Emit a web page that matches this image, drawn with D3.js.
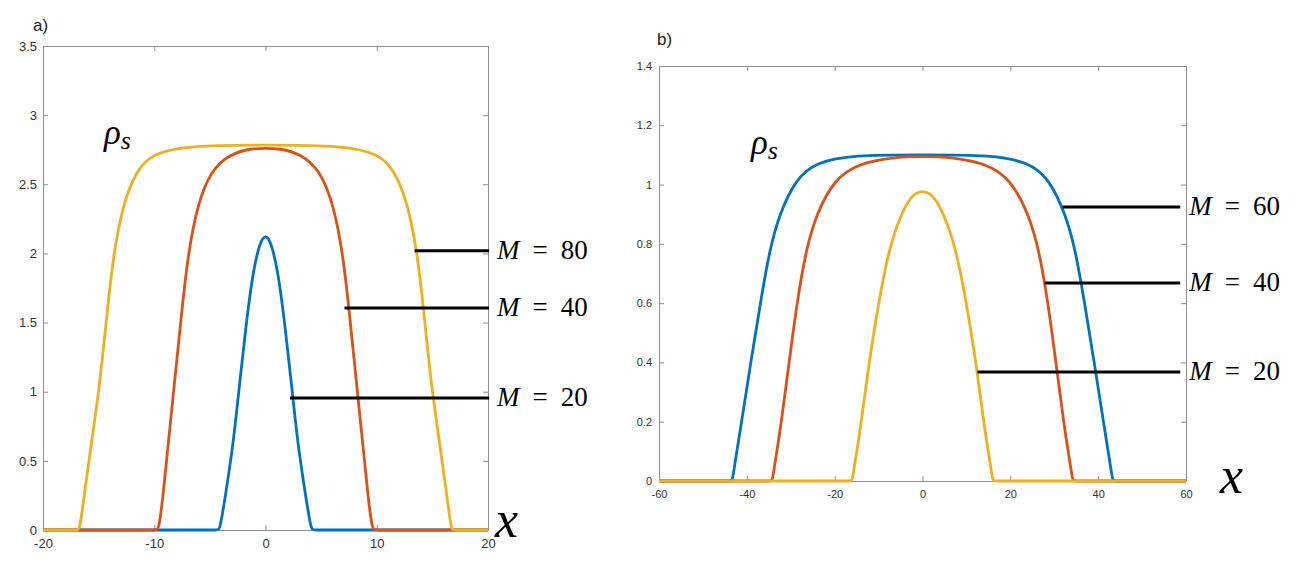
<!DOCTYPE html>
<html>
<head>
<meta charset="utf-8">
<script src="https://cdn.jsdelivr.net/npm/d3@7"></script>
<style>
  body { margin: 0; background: #fff; }
  svg { display: block; }
</style>
</head>
<body>
<script>
// ---- panel a) data (read off the figure) ----
var aM20x = [-20, -6, -4.3, -4.1, -3.6, -2.9, -2.3, -1.7, -1.1, -0.55, -0.25, 0, 0.25, 0.55, 1.1, 1.7, 2.3, 2.9, 3.6, 4.1, 4.3, 6, 20];
var aM20y = [0, 0, 0, 0, 0.25, 0.62, 1.08, 1.52, 1.88, 2.06, 2.11, 2.125, 2.11, 2.06, 1.88, 1.52, 1.08, 0.62, 0.25, 0, 0, 0, 0];

var aM40x = [-20, -12, -9.8, -9.6, -9.2, -8.8, -8.2, -7.6, -7.0, -6.1, -4.9, -3.2, -1.2, 0, 1.2, 3.2, 4.9, 6.1, 7.0, 7.6, 8.2, 8.8, 9.2, 9.6, 9.8, 12, 20];
var aM40y = [0, 0, 0, 0, 0.25, 0.58, 1.05, 1.52, 1.98, 2.36, 2.6, 2.72, 2.76, 2.76, 2.76, 2.72, 2.6, 2.36, 1.98, 1.52, 1.05, 0.58, 0.25, 0, 0, 0, 0];

var aM80x = [-20, -18.5, -16.9, -16.7, -16.3, -15.7, -14.9, -14.3, -13.7, -12.8, -11.6, -10.2, -7.1, 0, 7.1, 10.2, 11.6, 12.8, 13.7, 14.3, 14.9, 15.7, 16.3, 16.7, 16.9, 18.5, 20];
var aM80y = [0, 0, 0, 0, 0.25, 0.6, 1.05, 1.52, 1.98, 2.36, 2.6, 2.72, 2.78, 2.785, 2.78, 2.72, 2.6, 2.36, 1.98, 1.52, 1.05, 0.6, 0.25, 0, 0, 0, 0];

var aXTicks = [-20, -10, 0, 10, 20];
var aYTicks = [0, 0.5, 1, 1.5, 2, 2.5, 3, 3.5];

// annotation lines: M value, line start x, line end x, height
var aLabelM = [20, 40, 80];
var aLabelX0 = [2.2, 7.1, 13.4];
var aLabelX1 = [20.1, 20.1, 20.1];
var aLabelY = [0.955, 1.605, 2.02];

// ---- panel b) data ----
var bM60x = [-60, -50, -43.6, -43.3, -42.6, -41.3, -39.0, -36.7, -34.8, -32.6, -28.8, -24.2, -15.9, 0, 15.9, 24.2, 28.8, 32.6, 34.8, 36.7, 39.0, 41.3, 42.6, 43.3, 43.6, 50, 60];
var bM60y = [0, 0, 0, 0, 0.07, 0.19, 0.41, 0.62, 0.78, 0.9, 1.02, 1.075, 1.1, 1.1, 1.1, 1.075, 1.02, 0.9, 0.78, 0.62, 0.41, 0.19, 0.07, 0, 0, 0, 0];

var bM40x = [-60, -40, -34.5, -34.2, -33.5, -32.2, -30.3, -28.4, -26.5, -24.2, -20.0, -14.3, -6.8, 0, 6.8, 14.3, 20.0, 24.2, 26.5, 28.4, 30.3, 32.2, 33.5, 34.2, 34.5, 40, 60];
var bM40y = [0, 0, 0, 0, 0.07, 0.19, 0.41, 0.62, 0.78, 0.9, 1.02, 1.072, 1.092, 1.095, 1.092, 1.072, 1.02, 0.9, 0.78, 0.62, 0.41, 0.19, 0.07, 0, 0, 0, 0];

var bM20x = [-60, -22, -16.3, -16.0, -15.3, -14.0, -12.1, -9.8, -7.5, -4.9, -2.6, -1.2, 0, 1.2, 2.6, 4.9, 7.5, 9.8, 12.1, 14.0, 15.3, 16.0, 16.3, 22, 60];
var bM20y = [0, 0, 0, 0, 0.07, 0.19, 0.41, 0.62, 0.79, 0.9, 0.96, 0.973, 0.978, 0.973, 0.96, 0.9, 0.79, 0.62, 0.41, 0.19, 0.07, 0, 0, 0, 0];

var bXTicks = [-60, -40, -20, 0, 20, 40, 60];
var bYTicks = [0, 0.2, 0.4, 0.6, 0.8, 1, 1.2, 1.4];

var bLabelM = [20, 40, 60];
var bLabelX0 = [12.5, 27.8, 31.9];
var bLabelX1 = [58.7, 58.7, 58.7];
var bLabelY = [0.368, 0.668, 0.924];

var blue = "#0072BD", red = "#D95319", yellow = "#EDB120";

var width = 1302, height = 562;

var svg = d3.select("body").append("svg")
    .attr("width", width)
    .attr("height", height);

var panel = function(opt){
  var x = d3.scaleLinear().domain(opt.xDomain).range([opt.left, opt.right]);
  var y = d3.scaleLinear().domain(opt.yDomain).range([opt.bottom, opt.top]);
  var g = svg.append("g");
  var fmt = function(d){ return String(d); };

  // box with inward ticks on all four sides
  var bottom = g.append("g").attr("transform", "translate(0," + opt.bottom + ")")
    .call(d3.axisBottom(x).tickValues(opt.xTicks).tickFormat(fmt)
      .tickSizeInner(-5).tickSizeOuter(0).tickPadding(opt.xPad));
  var left = g.append("g").attr("transform", "translate(" + opt.left + ",0)")
    .call(d3.axisLeft(y).tickValues(opt.yTicks).tickFormat(fmt)
      .tickSizeInner(-5).tickSizeOuter(0).tickPadding(opt.yPad));
  var top = g.append("g").attr("transform", "translate(0," + opt.top + ")")
    .call(d3.axisTop(x).tickValues(opt.xTicks).tickFormat("")
      .tickSizeInner(-5).tickSizeOuter(0));
  var right = g.append("g").attr("transform", "translate(" + opt.right + ",0)")
    .call(d3.axisRight(y).tickValues(opt.yTicks).tickFormat("")
      .tickSizeInner(-5).tickSizeOuter(0));

  [bottom, left, top, right].forEach(function(ax){
    ax.select(".domain").attr("stroke", "#8f8f8f");
    ax.selectAll(".tick line").attr("stroke", "#8f8f8f");
    ax.selectAll(".tick text")
      .attr("fill", "#333")
      .style("font-family", "'Liberation Sans', Arial, sans-serif")
      .style("font-size", opt.tickFont + "px");
  });

  // curves (drawn in plot order so the last one sits on top)
  var line = d3.line()
    .x(function(d){ return x(d[0]); })
    .y(function(d){ return y(d[1]); })
    .curve(d3.curveBasis);

  opt.series.forEach(function(s){
    g.append("path")
      .attr("d", line(d3.zip(s.xs, s.ys)))
      .attr("fill", "none")
      .attr("stroke", s.color)
      .attr("stroke-width", 2.8)
      .attr("stroke-linejoin", "round");
  });

  // M = .. annotations
  opt.labelM.forEach(function(m, i){
    g.append("line")
      .attr("x1", x(opt.labelX0[i])).attr("x2", x(opt.labelX1[i]))
      .attr("y1", y(opt.labelY[i])).attr("y2", y(opt.labelY[i]))
      .attr("stroke", "#000").attr("stroke-width", 3);
    var t = g.append("text")
      .attr("x", x(opt.labelX1[i]) + opt.labelGap)
      .attr("y", y(opt.labelY[i]) + 8)
      .style("font-family", "'Liberation Serif', 'Times New Roman', serif")
      .style("font-size", "27px");
    t.append("tspan").attr("font-style", "italic").text("M");
    t.append("tspan").attr("dx", 13).text("=");
    t.append("tspan").attr("dx", 13).text(m);
  });

  // rho_s and x labels
  var rho = g.append("text")
    .attr("x", opt.rhoPos[0]).attr("y", opt.rhoPos[1])
    .style("font-family", "'Liberation Serif', 'Times New Roman', serif")
    .style("font-style", "italic")
    .style("font-size", "35px");
  rho.append("tspan").text("ρ");
  rho.append("tspan").attr("dy", 5).style("font-size", "26px").text("s");

  g.append("text")
    .attr("x", opt.xLabelPos[0]).attr("y", opt.xLabelPos[1])
    .style("font-family", "'Liberation Serif', 'Times New Roman', serif")
    .style("font-style", "italic")
    .style("font-size", "52px")
    .text("x");

  g.append("text")
    .attr("x", opt.tagPos[0]).attr("y", opt.tagPos[1])
    .style("font-family", "'Liberation Sans', Arial, sans-serif")
    .style("font-size", "17px")
    .attr("fill", "#222")
    .text(opt.tag);
};

panel({
  tag: "a)", tagPos: [33, 31],
  left: 43, right: 488, top: 46, bottom: 530,
  xDomain: [-20, 20], yDomain: [0, 3.5],
  xTicks: aXTicks, yTicks: aYTicks,
  xPad: 9, yPad: 6, tickFont: 13,
  series: [
    {xs: aM20x, ys: aM20y, color: blue},
    {xs: aM40x, ys: aM40y, color: red},
    {xs: aM80x, ys: aM80y, color: yellow}
  ],
  labelM: aLabelM, labelX0: aLabelX0, labelX1: aLabelX1, labelY: aLabelY, labelGap: 8,
  rhoPos: [104, 144], xLabelPos: [495, 537]
});

panel({
  tag: "b)", tagPos: [657, 45],
  left: 659, right: 1186, top: 66, bottom: 481,
  xDomain: [-60, 60], yDomain: [0, 1.4],
  xTicks: bXTicks, yTicks: bYTicks,
  xPad: 9, yPad: 7, tickFont: 11,
  series: [
    {xs: bM60x, ys: bM60y, color: blue},
    {xs: bM40x, ys: bM40y, color: red},
    {xs: bM20x, ys: bM20y, color: yellow}
  ],
  labelM: bLabelM, labelX0: bLabelX0, labelX1: bLabelX1, labelY: bLabelY, labelGap: 9,
  rhoPos: [751, 154], xLabelPos: [1220, 493]
});
</script>
</body>
</html>
